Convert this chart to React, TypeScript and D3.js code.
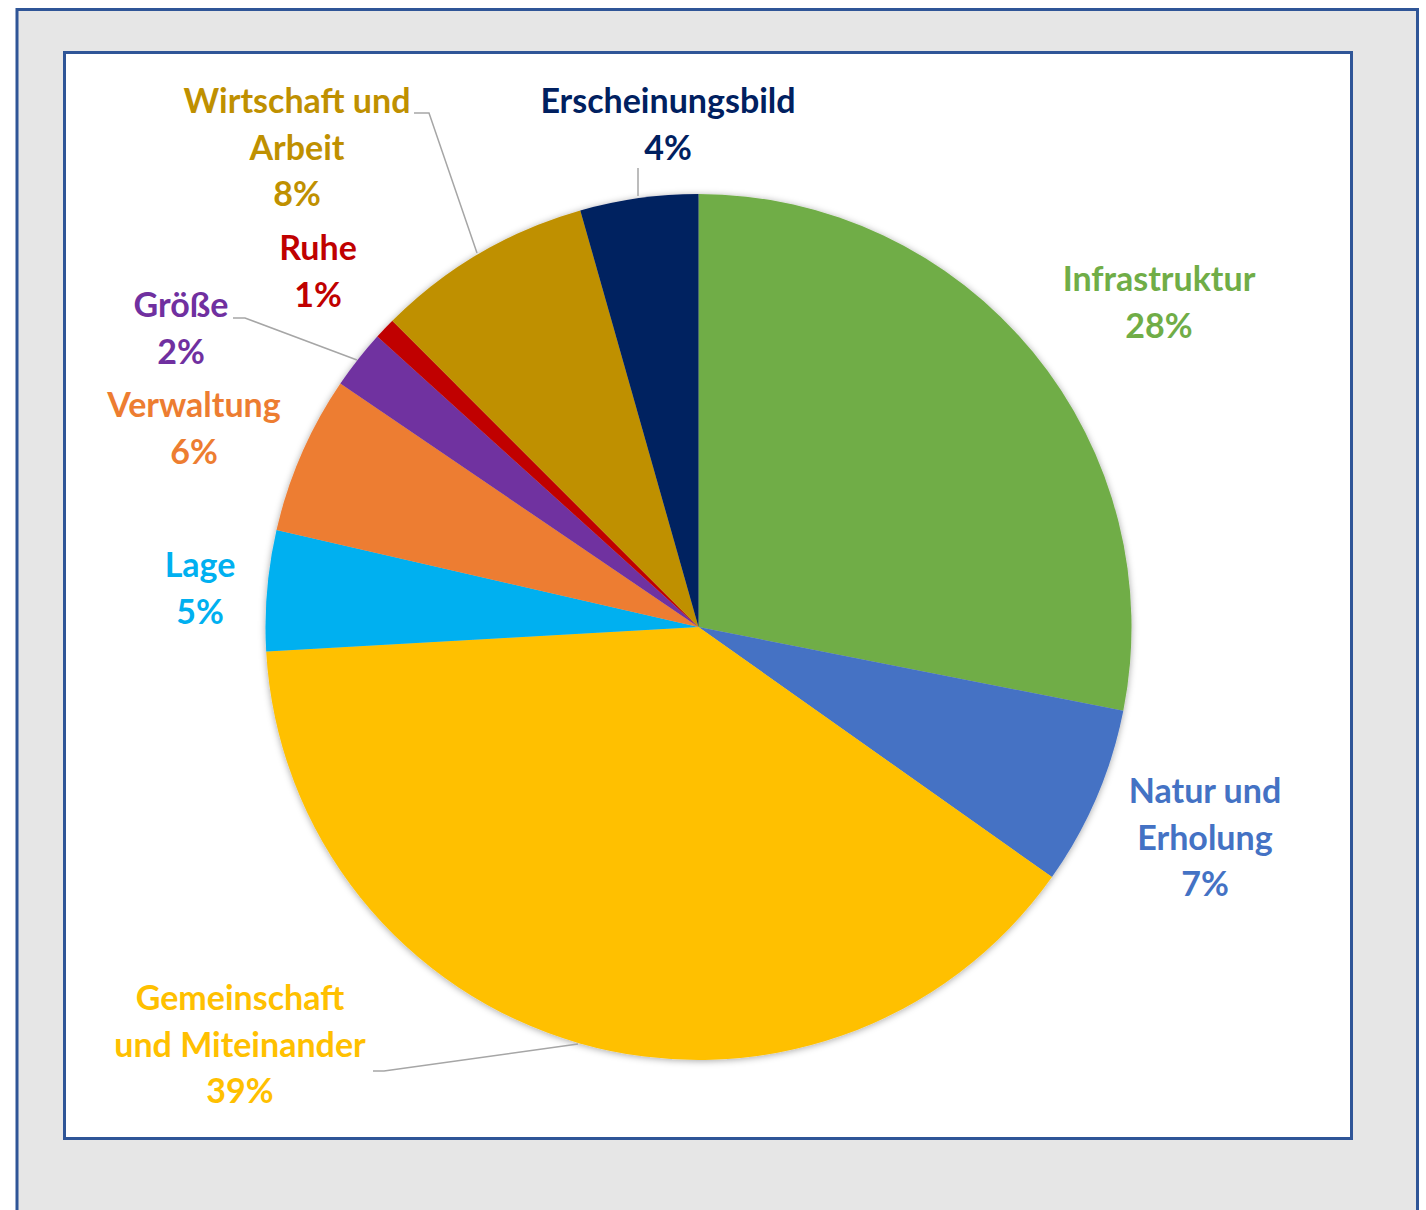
import React from "react";
import * as d3 from "d3";

const categories = [
  "Infrastruktur",
  "Natur und Erholung",
  "Gemeinschaft und Miteinander",
  "Lage",
  "Verwaltung",
  "Größe",
  "Ruhe",
  "Wirtschaft und Arbeit",
  "Erscheinungsbild",
];
const values = [28.1, 6.7, 39.3, 4.5, 5.9, 2.2, 0.8, 8.1, 4.4];
const colors = [
  "#70AD47",
  "#4472C4",
  "#FFC000",
  "#00B0F0",
  "#ED7D31",
  "#7030A0",
  "#C00000",
  "#BF9000",
  "#002060",
];
// label text lines (name split as in the picture)
const labelLines = [
  ["Infrastruktur"],
  ["Natur und", "Erholung"],
  ["Gemeinschaft", "und Miteinander"],
  ["Lage"],
  ["Verwaltung"],
  ["Größe"],
  ["Ruhe"],
  ["Wirtschaft und", "Arbeit"],
  ["Erscheinungsbild"],
];
// label anchor (center of first line) positions
const labelPos: [number, number][] = [
  [1159, 279],
  [1205, 791],
  [240, 998],
  [200, 565],
  [194, 405],
  [181, 305],
  [318, 248],
  [297, 101],
  [668, 101],
];
// leader lines: [labelSidePoints..., slice edge point]
const leaders: { idx: number; pts: [number, number][] }[] = [
  { idx: 7, pts: [[414, 113], [429, 113], [477, 253]] },
  { idx: 8, pts: [[638, 168], [638, 196]] },
  { idx: 5, pts: [[233, 318], [245, 318], [357, 360]] },
  { idx: 2, pts: [[373, 1071], [384, 1071], [578, 1044]] },
];

const W = 1426;
const H = 1210;
const cx = 698.5;
const cy = 627;
const R = 433;
const FONT = "Lato, 'Open Sans', sans-serif";
const FS = 34;
const LH = 46.5;

export default function App() {
  const pie = d3
    .pie<number>()
    .sort(null)
    .value((d) => d)
    .startAngle(0)
    .endAngle(2 * Math.PI);
  const arcs = pie(values);
  const arcGen = d3.arc<d3.PieArcDatum<number>>().innerRadius(0).outerRadius(R);
  const total = d3.sum(values);
  const line = d3.line();

  return (
    <svg
      width={W}
      height={H}
      style={{ position: "absolute", left: 0, top: 0, background: "#fff" }}
    >
      <defs>
        <filter id="sh" x="-10%" y="-10%" width="120%" height="120%">
          <feDropShadow dx="0" dy="1" stdDeviation="3.5" floodColor="#000" floodOpacity="0.35" />
        </filter>
      </defs>
      <rect x={0} y={0} width={W} height={H} fill="#fff" />
      <rect
        x={17}
        y={9.5}
        width={1400.5}
        height={1220}
        fill="#E6E6E6"
        stroke="#2F5597"
        strokeWidth={3}
      />
      <rect
        x={64.5}
        y={52.5}
        width={1287}
        height={1086}
        fill="#fff"
        stroke="#2F5597"
        strokeWidth={3}
      />
      <g transform={`translate(${cx},${cy})`} filter="url(#sh)">
        {arcs.map((a, i) => (
          <path key={i} d={arcGen(a) || ""} fill={colors[i]} />
        ))}
      </g>
      {leaders.map((l, k) => (
        <path
          key={k}
          d={line(l.pts) || ""}
          fill="none"
          stroke="#A6A6A6"
          strokeWidth={1.5}
        />
      ))}
      {categories.map((c, i) => {
        const lines = [...labelLines[i], `${Math.round((values[i] / total) * 100)}%`];
        const [x, y] = labelPos[i];
        return (
          <text
            key={c}
            x={x}
            y={y}
            textAnchor="middle"
            fontFamily={FONT}
            fontWeight={700}
            fontSize={FS}
            fill={colors[i]}
          >
            {lines.map((t, j) => (
              <tspan key={j} x={x} y={y - 1.5 + j * LH} dominantBaseline="central">
                {t}
              </tspan>
            ))}
          </text>
        );
      })}
    </svg>
  );
}
